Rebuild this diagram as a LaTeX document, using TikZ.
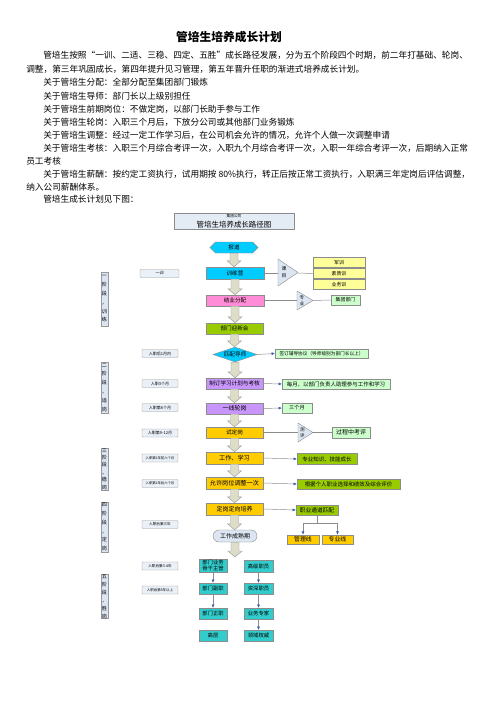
\documentclass[tikz,border=0pt]{standalone}
\usepackage{fontspec}
\setmainfont{Noto Sans CJK SC}
\usetikzlibrary{shapes.geometric,shapes.symbols,arrows.meta,calc}
\definecolor{cyanB}{RGB}{0,204,255}
\definecolor{pinkB}{RGB}{255,140,214}
\definecolor{oliveB}{RGB}{153,204,0}
\definecolor{purpleB}{RGB}{200,150,250}
\definecolor{goldB}{RGB}{255,204,0}
\definecolor{lgreen}{RGB}{204,255,204}
\definecolor{lyellow}{RGB}{255,255,153}
\definecolor{tealc}{RGB}{51,204,204}
\definecolor{lblue}{RGB}{220,230,242}
\definecolor{arrowc}{RGB}{221,221,200}
\definecolor{arrblue}{RGB}{50,90,170}
\newcommand\myfs[1]{\fontsize{#1}{#1}\selectfont}
\newcommand\stagefont{\fontsize{3.8}{6.6}\selectfont}
\newcommand\barrow[2]{%
  \filldraw[blockarr] let \p1=#1, \p2=#2 in
    (\x1-3pt,\y1) -- (\x1+3pt,\y1) -- (\x1+3pt,\y2+4.5pt) -- (\x1+5.25pt,\y2+4.5pt)
    -- (\x1,\y2) -- (\x1-5.25pt,\y2+4.5pt) -- (\x1-3pt,\y2+4.5pt) -- cycle;}
\begin{document}
\begin{tikzpicture}[x=0.75pt,y=-0.75pt,
  mainbox/.style={draw=black!45, line width=0.3pt, minimum width=57*0.75pt, minimum height=11*0.75pt, inner sep=0pt, font={\myfs{4.2}}},
  sidebox/.style={draw=black!45, line width=0.3pt, inner sep=0pt, minimum height=9.5*0.75pt, font={\myfs{3.7}}},
  leftlab/.style={draw=black!40, fill=lblue!60, line width=0.3pt, minimum width=36*0.75pt, minimum height=8*0.75pt, inner sep=0pt, font={\myfs{3}}, rounded corners=0.6pt},
  stagebox/.style={draw=black!40, fill=lblue, line width=0.3pt, minimum width=7*0.75pt, inner sep=0pt, align=center, font=\stagefont},
  tealbox/.style={draw=black!45, fill=tealc, line width=0.3pt, inner sep=0pt, minimum height=11*0.75pt, font={\myfs{4}}, align=center},
  conn/.style={draw=black!45, line width=0.35pt},
  tarr/.style={conn, -{Latex[length=2.4pt,width=2.2pt,color=arrblue]}},
  blockarr/.style={draw=black!40, fill=arrowc, line width=0.3pt},
  tri/.style={draw=black!45, fill=lblue, line width=0.3pt},
  bodytext/.style={anchor=west, inner sep=0pt, font={\myfs{6.5}}}
]
\useasboundingbox (0,0) rectangle (496,702);
\fill[white] (0,0) rectangle (496,702);

% ---------- text ----------
\node[inner sep=0pt, font={\myfs{8.8}\bfseries}] (title) at (229,37) {管培生培养成长计划};
\node[bodytext] (t1) at (43,55) {管培生按照“一训、二适、三稳、四定、五胜”成长路径发展，分为五个阶段四个时期，前二年打基础、轮岗、};
\node[bodytext] (t2) at (26,69) {调整，第三年巩固成长，第四年提升见习管理，第五年晋升任职的渐进式培养成长计划。};
\node[bodytext] (t3) at (43,82.5) {关于管培生分配：全部分配至集团部门锻炼};
\node[bodytext] (t4) at (43,96) {关于管培生导师：部门长以上级别担任};
\node[bodytext] (t5) at (43,109) {关于管培生前期岗位：不做定岗，以部门长助手参与工作};
\node[bodytext] (t6) at (43,122.5) {关于管培生轮岗：入职三个月后，下放分公司或其他部门业务锻炼};
\node[bodytext] (t7) at (43,135.5) {关于管培生调整：经过一定工作学习后，在公司机会允许的情况，允许个人做一次调整申请};
\node[bodytext] (t8) at (43,148) {关于管培生考核：入职三个月综合考评一次，入职九个月综合考评一次，入职一年综合考评一次，后期纳入正常};
\node[bodytext] (t9) at (26,161) {员工考核};
\node[bodytext] (t10) at (43,174) {关于管培生薪酬：按约定工资执行，试用期按 80\%执行，转正后按正常工资执行，入职满三年定岗后评估调整，};
\node[bodytext] (t11) at (26,187) {纳入公司薪酬体系。};
\node[bodytext] (t12) at (43,199.5) {管培生成长计划见下图：};

% ---------- chart title ----------
\node[draw=black!45, fill=lblue!80, line width=0.3pt, minimum width=120*0.75pt, minimum height=16*0.75pt, inner sep=0pt] (ctitle) at (234,221) {};
\node[inner sep=0pt, font={\myfs{2.8}}] (ct1) at (234,216) {集团公司};
\node[inner sep=0pt, font={\myfs{5.6}}] (ct2) at (234,224.5) {管培生培养成长路径图};

% ---------- main column ----------
\node[signal, signal to=west and east, draw=black!45, fill=cyanB, line width=0.3pt, minimum width=48*0.75pt, minimum height=11*0.75pt, inner sep=0pt, font={\myfs{4.2}}] (bd) at (234,247.5) {报道};
\node[mainbox, fill=cyanB, minimum width=58*0.75pt, minimum height=12*0.75pt] (xly) at (235,273) {训练营};
\node[mainbox, fill=pinkB, minimum width=58*0.75pt] (jyfp) at (235,300.5) {结业分配};
\node[mainbox, fill=oliveB] (yxh) at (234.5,328.5) {部门迎新会};
\node[diamond, draw=black!45, fill=cyanB, line width=0.3pt, minimum width=44*0.75pt, minimum height=15*0.75pt, inner sep=0pt] (ppds) at (235,354.5) {};
\node[inner sep=0pt, font={\myfs{4.2}}] (ppdst) at (ppds) {匹配导师};
\node[mainbox, fill=purpleB] (zdjh) at (234.5,383.5) {制订学习计划与考核};
\node[mainbox, fill=purpleB, font={\myfs{4.5}}] (yxlg) at (234.5,408.5) {一线轮岗};
\node[mainbox, fill=goldB] (sdg) at (234.5,432.5) {试定岗};
\node[mainbox, fill=goldB, minimum height=12*0.75pt, font={\myfs{4.6}}] (gzxx) at (234.5,458) {工作、学习};
\node[mainbox, fill=goldB, minimum height=12*0.75pt, font={\myfs{4.6}}] (yxtz) at (234.5,483) {允许岗位调整一次};
\node[mainbox, fill=goldB, minimum height=12*0.75pt, font={\myfs{4.5}}] (dgdx) at (234.5,509) {定岗定向培养};
\node[draw=black!45, fill=lblue, line width=0.3pt, rounded corners=4.5pt, minimum width=44*0.75pt, minimum height=12*0.75pt, inner sep=0pt, font={\myfs{4.5}}] (gzcs) at (235,536) {工作成熟期};
\coordinate (gzend) at (235,557);

\barrow{(bd.south)}{(xly.north)}
\barrow{(xly.south)}{(jyfp.north)}
\barrow{(jyfp.south)}{(yxh.north)}
\barrow{(yxh.south)}{(ppds.north)}
\barrow{(ppds.south)}{(zdjh.north)}
\barrow{(zdjh.south)}{(yxlg.north)}
\barrow{(yxlg.south)}{(sdg.north)}
\barrow{(sdg.south)}{(gzxx.north)}
\barrow{(gzxx.south)}{(yxtz.north)}
\barrow{(yxtz.south)}{(dgdx.north)}
\barrow{(dgdx.south)}{(gzcs.north)}
\barrow{(gzcs.south)}{(gzend)}

% ---------- right side ----------
% 课目 triangle
\filldraw[tri] (278,259) -- (298,272.5) -- (278,286) -- cycle;
\coordinate (kmL) at (278,273);
\coordinate (kmR) at (298,273);
\node[inner sep=0pt, align=center, font={\fontsize{3.6}{5}\selectfont}] (kmt) at (284,272.5) {课\\目};
\node[sidebox, fill=lyellow, minimum width=52*0.75pt, minimum height=10*0.75pt] (jx) at (339,262.5) {军训};
\node[sidebox, fill=lyellow, minimum width=52*0.75pt, minimum height=10*0.75pt] (szx) at (339,273.5) {素质训};
\node[sidebox, fill=lyellow, minimum width=52*0.75pt, minimum height=10*0.75pt] (ywx) at (339,284.5) {业务训};
\draw[conn] (xly.east) -- (kmL);
\draw[conn] (kmR) -- (szx.west);

% 专业 triangle
\filldraw[tri] (297,291) -- (313,300.5) -- (297,310) -- cycle;
\coordinate (zyL) at (297,300.5);
\coordinate (zyR) at (313,300.5);
\node[inner sep=0pt, align=center, font={\fontsize{3.4}{4.6}\selectfont}] (zyt) at (302,300.5) {专\\业};
\node[sidebox, fill=lgreen, minimum width=29*0.75pt] (jtbm) at (345.5,300) {集团部门};
\draw[conn] (jyfp.east) -- (zyL);
\draw[conn] (zyR) -- (jtbm.west);

\node[sidebox, fill=lgreen, minimum width=93*0.75pt, font={\myfs{3.5}}] (qdxy) at (321.5,353.5) {签订辅导协议（导师级别为部门长以上）};
\draw[tarr] (ppds.east) -- (qdxy.west);

\node[sidebox, fill=lgreen, minimum width=108*0.75pt, font={\myfs{4.1}}] (my) at (336,384) {每月，以部门负责人助理参与工作和学习};
\draw[tarr] (zdjh.east) -- (my.west);

\node[sidebox, fill=lgreen, minimum width=30*0.75pt, font={\myfs{3.9}}] (sgy) at (297,408) {三个月};
\draw[tarr] (yxlg.east) -- (sgy.west);

% 测评 triangle
\filldraw[tri] (298,423) -- (313,432.5) -- (298,442) -- cycle;
\coordinate (cpL) at (298,432.5);
\coordinate (cpR) at (313,432.5);
\node[inner sep=0pt, align=center, font={\fontsize{3.4}{4.6}\selectfont}] (cpt) at (302.5,432.5) {测\\评};
\node[sidebox, fill=lgreen, minimum width=38*0.75pt, minimum height=11*0.75pt, font={\myfs{4.5}}] (gczkp) at (351,432.5) {过程中考评};
\draw[conn] (sdg.east) -- (cpL);
\draw[conn] (cpR) -- (gczkp.west);

\node[sidebox, fill=oliveB, minimum width=60*0.75pt, minimum height=11*0.75pt, font={\myfs{4.1}}] (zyzs) at (327,459) {专业知识、技能成长};
\draw[tarr] (gzxx.east) -- (zyzs.west);

\node[sidebox, fill=oliveB, minimum width=103*0.75pt, minimum height=10*0.75pt, font={\myfs{4.1}}] (gjgr) at (348.5,484) {根据个人职业选择和绩效及综合评价};
\draw[tarr] (yxtz.east) -- (gjgr.west);

\node[sidebox, fill=oliveB, minimum width=42*0.75pt, minimum height=10*0.75pt, font={\myfs{4.3}}] (zytd) at (317,510) {职业通道匹配};
\draw[tarr] (dgdx.east) -- (zytd.west);

\node[sidebox, fill=goldB, minimum width=32*0.75pt, minimum height=9.5*0.75pt, font={\myfs{4.4}}] (glx) at (303,539.5) {管理线};
\node[sidebox, fill=goldB, minimum width=31*0.75pt, minimum height=9.5*0.75pt, font={\myfs{4.4}}] (zyx) at (337.5,539.5) {专业线};
\coordinate (split) at (317,523);
\draw[conn] (zytd.south) -- (split);
\draw[tarr] (split) -| (glx.north);
\draw[tarr] (split) -| (zyx.north);

% ---------- teal boxes ----------
\node[tealbox, minimum width=28*0.75pt, minimum height=13*0.75pt, font={\fontsize{4}{5}\selectfont}] (bmzg) at (213,565.5) {部门业务\\骨干主管};
\node[tealbox, minimum width=28*0.75pt] (bmfz) at (213,588.5) {部门副职};
\node[tealbox, minimum width=28*0.75pt] (bmzz) at (213,613.5) {部门正职};
\node[tealbox, minimum width=28*0.75pt] (gc) at (213,635.5) {高层};
\node[tealbox, minimum width=29*0.75pt, minimum height=12*0.75pt] (gjzy) at (258.5,566) {高级职员};
\node[tealbox, minimum width=29*0.75pt] (zszy) at (258.5,588.5) {资深职员};
\node[tealbox, minimum width=29*0.75pt] (ywzj) at (258.5,613.5) {业务专家};
\node[tealbox, minimum width=29*0.75pt] (lyqw) at (258.5,635.5) {领域权威};
\draw[tarr] (bmzg) -- (bmfz);
\draw[tarr] (bmfz) -- (bmzz);
\draw[tarr] (gjzy) -- (zszy);
\draw[tarr] (zszy) -- (ywzj);
\draw[tarr] (ywzj) -- (lyqw);

% ---------- left labels ----------
\node[leftlab, minimum width=39*0.75pt] (l0) at (159.5,273.5) {一训};
\node[leftlab] (l1) at (160,353.5) {入职后1月内};
\node[leftlab] (l2) at (160,383.5) {入职3个月};
\node[leftlab] (l3) at (160,407.5) {入职第6个月};
\node[leftlab] (l4) at (160,433) {入职第9-12月};
\node[leftlab, font={\myfs{2.5}}] (l5) at (160,458) {入职第2年前六个月};
\node[leftlab, font={\myfs{2.5}}] (l6) at (160,483.5) {入职第2年后六个月};
\node[leftlab, font={\myfs{2.7}}] (l7) at (160,524.5) {入职后第三年};
\node[leftlab, font={\myfs{2.7}}] (l8) at (160,566) {入职后第3-4年};
\node[leftlab, font={\myfs{2.6}}] (l9) at (160,590) {入职后第5年以上};

% ---------- stage boxes ----------
\node[stagebox, minimum height=54*0.75pt] (s1) at (104.5,299) {一\\阶\\段\\，\\训\\练};
\node[stagebox, minimum height=51*0.75pt] (s2) at (104.5,387.5) {二\\阶\\段\\，\\适\\岗};
\node[stagebox, minimum height=40*0.75pt, font={\fontsize{3.8}{5.6}\selectfont}] (s3) at (104.5,469) {三\\阶\\段\\，\\稳\\岗};
\node[stagebox, minimum height=50*0.75pt] (s4) at (104.5,527) {四\\阶\\段\\，\\定\\岗};
\node[stagebox, minimum height=43*0.75pt, font={\fontsize{3.8}{6}\selectfont}] (s5) at (104.5,596.5) {五\\阶\\段\\，\\胜\\岗};
\end{tikzpicture}
\end{document}
